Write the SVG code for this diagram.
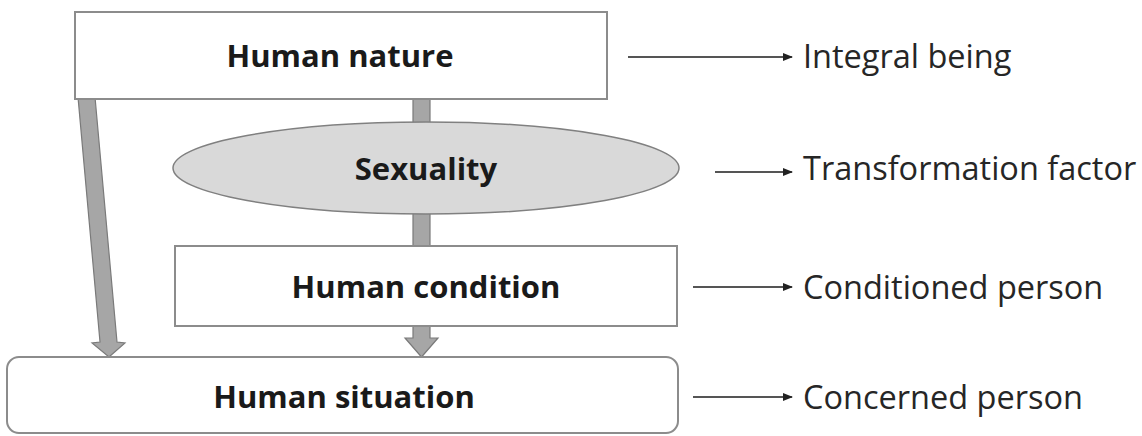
<svg xmlns="http://www.w3.org/2000/svg" width="1142" height="436" viewBox="0 0 1142 436">
<style>
.box{fill:#ffffff;stroke:#8c8c8c;stroke-width:2}
.ell{fill:#d9d9d9;stroke:#808080;stroke-width:1.5}
.blk{fill:#a6a6a6;stroke:#7a7a7a;stroke-width:1.2}
.lbl{font-family:"Open Sans",Lato,sans-serif;font-weight:bold;font-size:31px;fill:#1a1a1a;text-anchor:middle}
.side{font-family:"Open Sans",Lato,sans-serif;font-size:32.5px;fill:#262626}
.con{stroke:#555555;stroke-width:2;fill:none;marker-end:url(#ah)}
</style>
<defs>
<marker id="ah" viewBox="0 0 10 10" refX="9" refY="5" markerWidth="5" markerHeight="5" orient="auto" markerUnits="strokeWidth">
<path d="M0,1 L10,5 L0,9 z" fill="#222222"/>
</marker>
</defs>
<rect width="1142" height="436" fill="#ffffff"/>
<g id="connectors">
<polygon class="blk" points="413,99 430,99 430,124 413,124"/>
<polygon class="blk" points="413,213 430,213 430,248 438,248 421.5,265 405,248 413,248"/>
<polygon class="blk" points="413,326 430,326 430,338 438,338 421.5,357 405,338 413,338"/>
<polygon class="blk" points="78,97 95,97 117,342 125,343 109,357 92,343 100,342"/>
<line class="con" x1="628" y1="57" x2="792" y2="57"/>
<line class="con" x1="715" y1="172" x2="792" y2="172"/>
<line class="con" x1="693" y1="287" x2="792" y2="287"/>
<line class="con" x1="693" y1="397" x2="792" y2="397"/>
</g>
<g id="human-nature">
<rect class="box" x="75" y="12" width="532" height="87"/>
<text class="lbl" x="340" y="67">Human nature</text>
</g>
<g id="sexuality">
<ellipse class="ell" cx="426" cy="168" rx="253" ry="46"/>
<text class="lbl" x="426" y="180">Sexuality</text>
</g>
<g id="human-condition">
<rect class="box" x="175" y="246" width="502" height="80"/>
<text class="lbl" x="426" y="298">Human condition</text>
</g>
<g id="human-situation">
<rect class="box" x="7" y="357" width="671" height="76" rx="12" ry="12"/>
<text class="lbl" x="344" y="408">Human situation</text>
</g>
<g id="side-labels">
<text class="side" x="803" y="68">Integral being</text>
<text class="side" x="803" y="180">Transformation factor</text>
<text class="side" x="803" y="299">Conditioned person</text>
<text class="side" x="803" y="409">Concerned person</text>
</g>
</svg>
